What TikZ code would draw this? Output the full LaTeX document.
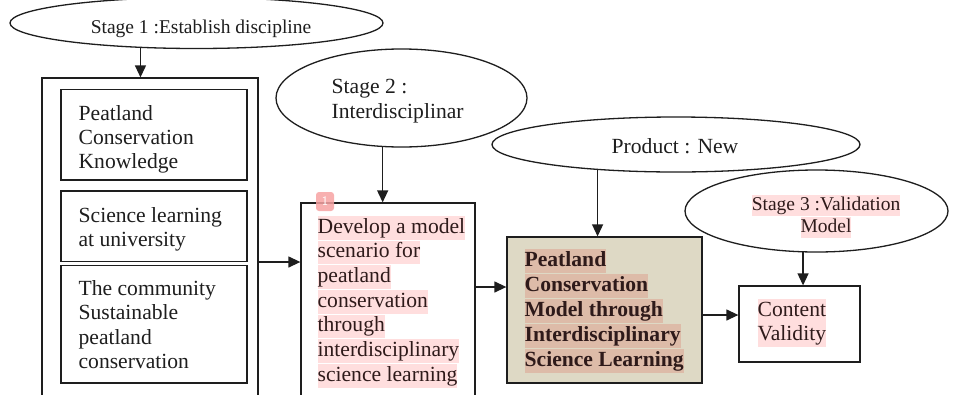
\documentclass[tikz,border=0pt]{standalone}
\usepackage{fontspec}
\setmainfont{Liberation Serif}
\usetikzlibrary{shapes.geometric,arrows.meta}
\definecolor{hlpink}{HTML}{FFDEDE}
\definecolor{hlbrown}{HTML}{DDBBA8}
\definecolor{beige}{HTML}{DED9C5}
\definecolor{ink}{HTML}{1E1E1E}
\definecolor{hlink}{HTML}{2E1A1A}
\definecolor{badgecol}{HTML}{F7A3A3}
\newcommand\fmain{\fontsize{21.6pt}{24.7pt}\selectfont}
\newcommand\fsmall{\fontsize{19.5pt}{22.5pt}\selectfont}
\begin{document}
\begin{tikzpicture}[x=1pt,y=-1pt,line width=1.3pt,
  box/.style={draw=ink, rectangle, inner sep=0pt},
  oval/.style={draw=ink, ellipse, inner sep=0pt},
  arr/.style={draw=ink, -{Triangle[length=12pt,width=11pt]}},
  ln/.style={anchor=base west, inner sep=0pt, text=ink, font=\fmain},
  hl/.style={ln, text=hlink, fill=hlpink, text height=17pt, text depth=6.5pt},
  hlb/.style={hl, fill=hlbrown, font=\fmain\bfseries},
  hls/.style={hl, anchor=base, font=\fsmall, text height=15.5pt, text depth=5.5pt}]
\useasboundingbox (0,0) rectangle (957,394);
\fill[white] (0,0) rectangle (957,394);
% ellipses
\node[oval, minimum width=373pt, minimum height=51pt] (e1) at (196.5,23) {};
\node[oval, minimum width=251pt, minimum height=98pt] (e2) at (401.5,98) {};
\node[oval, minimum width=368pt, minimum height=55pt] (pr) at (676,144.5) {};
\node[oval, minimum width=263pt, minimum height=82pt] (e3) at (816.5,211) {};
% boxes
\node[box, minimum width=216pt, minimum height=322pt] (outer) at (150,239) {};
\node[box, minimum width=186pt, minimum height=90.5pt] (b1) at (154,134.75) {};
\node[box, minimum width=186pt, minimum height=70.5pt] (b2) at (154,226.25) {};
\node[box, minimum width=186pt, minimum height=117.5pt] (b3) at (154,324.25) {};
\node[box, minimum width=174pt, minimum height=197pt] (dev) at (388,301.5) {};
\node[box, fill=beige, minimum width=195pt, minimum height=146pt] (model) at (604.5,310) {};
\node[box, minimum width=121pt, minimum height=76pt] (cv) at (799.5,324) {};
% connectors
\coordinate (r1) at (0,262);
\coordinate (r2) at (0,287);
\coordinate (r3) at (0,315);
\draw[arr] (e1.204) -- (e1.204 |- outer.north);
\draw[arr] (e2.249) -- (e2.249 |- dev.north);
\draw[arr] (pr.198) -- (pr.198 |- model.north);
\draw[arr] (e3.252) -- (e3.252 |- cv.north);
\draw[arr] (outer.east |- r1) -- (dev.west |- r1);
\draw[arr] (dev.east |- r2) -- (model.west |- r2);
\draw[arr] (model.east |- r3) -- (cv.west |- r3);
% ellipse texts
\node[ln, anchor=base, font=\fsmall] (t1) at (201,33) {Stage 1 :Establish discipline};
\node[ln] (t2a) at (331,93) {Stage 2 :};
\node[ln] (t2b) at (331,118) {Interdisciplinar};
\node[ln, anchor=base] (tp) at (675,153) {Product : New};
\node[hls] (t3a) at (826,210) {Stage 3 :Validation};
\node[hls] (t3b) at (826,232) {Model};
% left boxes
\node[ln] (a1) at (78,120) {Peatland};
\node[ln] (a2) at (78,144) {Conservation};
\node[ln] (a3) at (78,168) {Knowledge};
\node[ln] (s1) at (78,222) {Science learning};
\node[ln] (s2) at (78,246) {at university};
\node[ln] (c1) at (78,295) {The community};
\node[ln] (c2) at (78,319.5) {Sustainable};
\node[ln] (c3) at (78,344) {peatland};
\node[ln] (c4) at (78,368.5) {conservation};
% develop box
\node[hl] (d1) at (317,233) {Develop a model};
\node[hl] (d2) at (317,257.7) {scenario for};
\node[hl] (d3) at (317,282.3) {peatland};
\node[hl] (d4) at (317,307) {conservation};
\node[hl] (d5) at (317,331.7) {through};
\node[hl] (d6) at (317,356.3) {interdisciplinary};
\node[hl] (d7) at (317,381) {science learning};
% model box
\node[hlb] (m1) at (524,266) {Peatland};
\node[hlb] (m2) at (524,291) {Conservation};
\node[hlb] (m3) at (524,316) {Model through};
\node[hlb] (m4) at (524,341) {Interdisciplinary};
\node[hlb] (m5) at (524,366) {Science Learning};
% content validity
\node[hl] (v1) at (757,316) {Content};
\node[hl] (v2) at (757,340) {Validity};
% badge
\node[fill=badgecol, fill opacity=0.85, text opacity=1, rounded corners=3pt,
  minimum width=18pt, minimum height=19pt, inner sep=0pt, text=white,
  font=\sffamily\fontsize{13pt}{13pt}\selectfont] (badge) at (325,201.5) {1};
\end{tikzpicture}
\end{document}
